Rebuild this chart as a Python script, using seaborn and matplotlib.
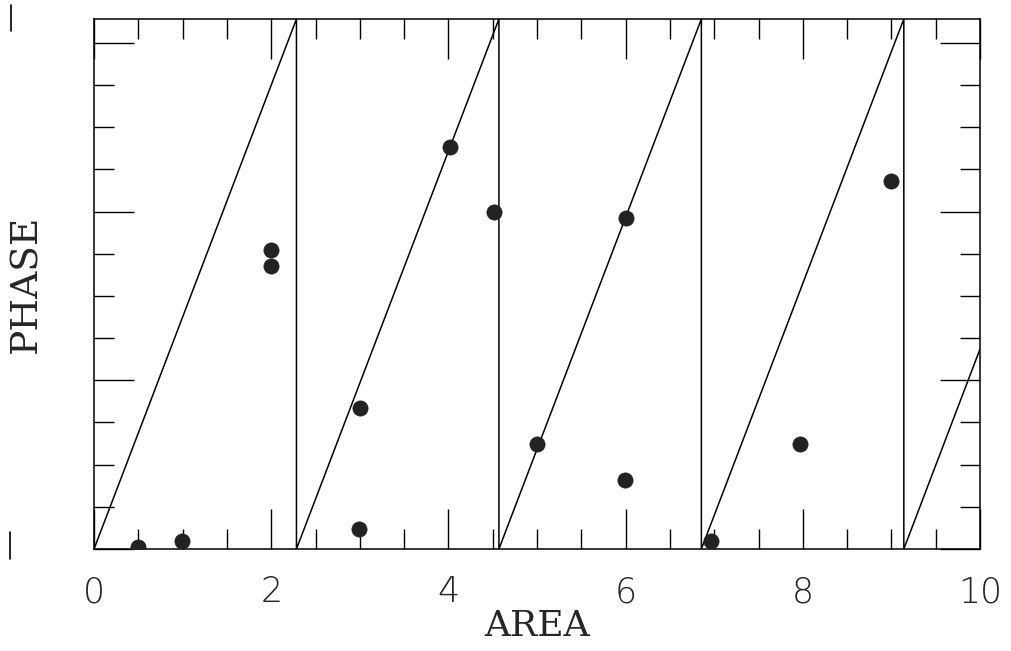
import matplotlib
matplotlib.use('Agg')
import matplotlib.pyplot as plt
import pandas as pd
import seaborn as sns
from matplotlib.lines import Line2D
from matplotlib.ticker import MultipleLocator

# pontos medidos (AREA, PHASE)
area = [0.50, 0.99, 2.00, 2.00, 2.99, 3.00, 4.02, 4.51, 5.00, 5.99, 6.00, 6.96, 7.97, 9.00]
phase = [0.02, 0.09, 3.55, 3.35, 0.24, 1.67, 4.76, 4.00, 1.25, 0.82, 3.92, 0.09, 1.25, 4.36]

# dente de serra (vertices)
saw_x = [0.0, 2.285, 2.285, 4.57, 4.57, 6.855, 6.855, 9.14, 9.14, 10.0]
saw_y = [0.0, 6.283, 0.0, 6.283, 0.0, 6.283, 0.0, 6.283, 0.0, 2.37]

df = pd.DataFrame({'AREA': area, 'PHASE': phase})
saw = pd.DataFrame({'x': saw_x, 'y': saw_y})

sns.set_style('ticks')
plt.rcParams['font.family'] = ['DejaVu Sans']

fig = plt.figure(figsize=(10.12, 6.51), dpi=100)
ax = fig.add_axes([0.0929, 0.1567, 0.8755, 0.8141])

sns.lineplot(data=saw, x='x', y='y', sort=False, estimator=None,
             color='black', linewidth=1.1, ax=ax)
sns.scatterplot(data=df, x='AREA', y='PHASE', s=120, color='#222222',
                edgecolor='#222222', linewidth=0.5, ax=ax, zorder=3)

ax.set_xlim(0, 10)
ax.set_ylim(0, 6.283)
ax.xaxis.set_major_locator(MultipleLocator(2))
ax.xaxis.set_minor_locator(MultipleLocator(0.5))
ax.yaxis.set_major_locator(MultipleLocator(2))
ax.yaxis.set_minor_locator(MultipleLocator(0.5))
ax.tick_params(which='both', direction='in', top=True, right=True, width=1.0, color='black')
ax.tick_params(which='major', length=29, labelsize=25, pad=19)
ax.tick_params(which='minor', length=14.5)
ax.tick_params(axis='y', labelleft=False)
for lab in ax.get_xticklabels():
    lab.set_fontweight('light')
for sp in ax.spines.values():
    sp.set_linewidth(1.1)
    sp.set_color('black')

ax.set_xlabel('AREA', family='DejaVu Serif', fontsize=26, labelpad=0)
ax.set_ylabel('PHASE', family='DejaVu Serif', fontsize=27, labelpad=32)

# marcas soltas na margem esquerda
fig.add_artist(Line2D([0.0109, 0.0109], [1 - 5/651, 1 - 31/651], color='black', lw=1.2))
fig.add_artist(Line2D([0.0099, 0.0099], [1 - 532/651, 1 - 559/651], color='black', lw=1.2))

fig.savefig('out.png', dpi=100)
